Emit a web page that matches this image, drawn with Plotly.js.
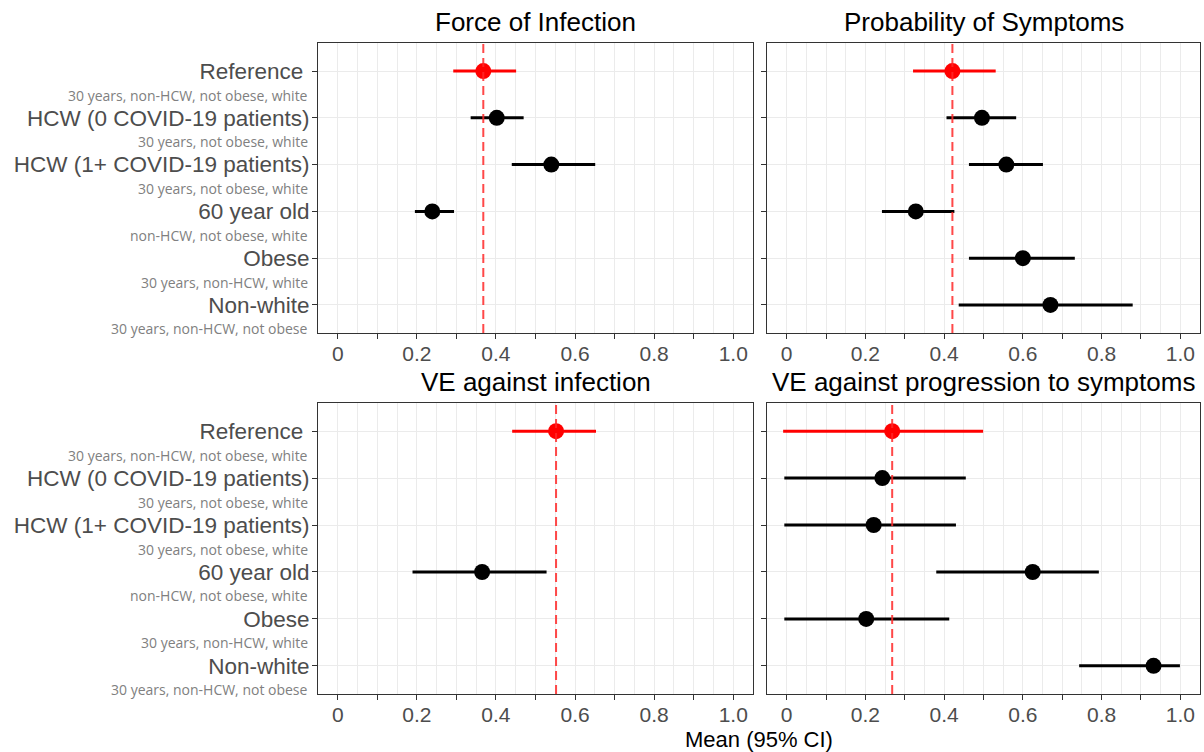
<!DOCTYPE html>
<html>
<head>
<meta charset="utf-8">
<script src="https://cdn.plot.ly/plotly-3.0.1.min.js"></script>
<style>html,body{margin:0;padding:0;background:#fff;}#chart{width:1204px;height:752px;}</style>
</head>
<body>
<div id="chart"></div>
<script>
// ---------- data ----------
const categories = ['Reference', 'HCW (0 COVID-19 patients)', 'HCW (1+ COVID-19 patients)', '60 year old', 'Obese', 'Non-white'];
const subtitles = ['30 years, non-HCW, not obese, white', '30 years, not obese, white', '30 years, not obese, white', 'non-HCW, not obese, white', '30 years, non-HCW, white', '30 years, non-HCW, not obese'];
const panelTitles = ['Force of Infection', 'Probability of Symptoms', 'VE against infection', 'VE against progression to symptoms'];

const foiMean = [0.368, 0.402, 0.540, 0.239, null, null];
const foiLo   = [0.292, 0.336, 0.440, 0.195, null, null];
const foiHi   = [0.451, 0.470, 0.651, 0.294, null, null];

const symMean = [0.421, 0.496, 0.558, 0.328, 0.600, 0.670];
const symLo   = [0.321, 0.406, 0.463, 0.242, 0.463, 0.437];
const symHi   = [0.531, 0.583, 0.651, 0.426, 0.732, 0.879];

const veInfMean = [0.552, null, null, 0.365, null, null];
const veInfLo   = [0.441, null, null, 0.189, null, null];
const veInfHi   = [0.653, null, null, 0.528, null, null];

const veSymMean = [0.268, 0.243, 0.221, 0.625, 0.202, 0.932];
const veSymLo   = [-0.009, -0.006, -0.006, 0.380, -0.006, 0.743];
const veSymHi   = [0.499, 0.455, 0.430, 0.793, 0.413, 0.999];

const xTickVals = [0, 0.1, 0.2, 0.3, 0.4, 0.5, 0.6, 0.7, 0.8, 0.9, 1.0];
const xTickText = ['0', '', '0.2', '', '0.4', '', '0.6', '', '0.8', '', '1.0'];
const xMinorVals = [0.05, 0.15, 0.25, 0.35, 0.45, 0.55, 0.65, 0.75, 0.85, 0.95];
const axisTitle = 'Mean (95% CI)';

// ---------- build ----------
const panels = [
  {mean: foiMean, lo: foiLo, hi: foiHi, xa: 'x', ya: 'y'},
  {mean: symMean, lo: symLo, hi: symHi, xa: 'x2', ya: 'y2'},
  {mean: veInfMean, lo: veInfLo, hi: veInfHi, xa: 'x3', ya: 'y3'},
  {mean: veSymMean, lo: veSymLo, hi: veSymHi, xa: 'x4', ya: 'y4'}
];

const traces = [];
const shapes = [];
const annotations = [];

function part(p, s, e, color) {
  const m = p.mean.slice(s, e);
  return {
    type: 'scatter', mode: 'markers',
    x: m, y: categories.slice(s, e),
    xaxis: p.xa, yaxis: p.ya,
    marker: {color: color, size: 16},
    error_x: {
      type: 'data', symmetric: false,
      array: m.map((v, i) => v == null ? null : p.hi[s + i] - v),
      arrayminus: m.map((v, i) => v == null ? null : v - p.lo[s + i]),
      color: color, thickness: 3, width: 0
    },
    hoverinfo: 'x+y', showlegend: false, cliponaxis: false
  };
}

panels.forEach((p, k) => {
  traces.push(part(p, 1, categories.length, '#000000'));
  traces.push(part(p, 0, 1, '#FF0000'));
  shapes.push({
    type: 'line', layer: 'above', xref: p.xa, yref: p.ya + ' domain',
    x0: p.mean[0], x1: p.mean[0], y0: 0, y1: 1,
    line: {color: 'rgba(255,40,40,0.85)', width: 2, dash: '9px,5px'}
  });
  annotations.push({
    text: panelTitles[k], xref: p.xa + ' domain', yref: p.ya + ' domain',
    x: 0.5, y: 1, xanchor: 'center', yanchor: 'bottom', yshift: 4, showarrow: false,
    font: {family: 'Liberation Sans, Arial, sans-serif', size: 26, color: '#000000'}
  });
  if (k === 0 || k === 2) {
    categories.forEach((c, i) => {
      annotations.push({
        text: subtitles[i], xref: p.xa + ' domain', yref: p.ya,
        x: 0, y: c, xanchor: 'right', yanchor: 'middle', xshift: -8, yshift: -24,
        showarrow: false,
        font: {family: 'Open Sans, Noto Sans, sans-serif', size: 14, color: '#808080'}
      });
    });
  }
});

annotations.push({
  text: axisTitle, xref: 'paper', yref: 'paper', x: (318 + 1200) / 2 / 1204, y: 1 - 739 / 752,
  xanchor: 'center', yanchor: 'middle', showarrow: false,
  font: {family: 'Liberation Sans, Arial, sans-serif', size: 22, color: '#000000'}
});

function xAxis(domain, anchor) {
  return {
    domain: domain, anchor: anchor, range: [-0.05, 1.05],
    tickmode: 'array', tickvals: xTickVals, ticktext: xTickText,
    ticks: 'outside', ticklen: 5, tickcolor: '#333333', tickwidth: 1,
    ticklabelstandoff: -3,
    tickfont: {family: 'Liberation Sans, Arial, sans-serif', size: 21, color: '#4D4D4D'},
    showgrid: true, gridcolor: '#EBEBEB', gridwidth: 1,
    minor: {tickmode: 'array', tickvals: xMinorVals, showgrid: true, gridcolor: '#EBEBEB', gridwidth: 1, ticks: ''},
    showline: true, mirror: true, linecolor: '#333333', linewidth: 1,
    zeroline: false, fixedrange: true
  };
}
function yAxis(domain, anchor, labels) {
  return {
    domain: domain, anchor: anchor, type: 'category',
    categoryorder: 'array', categoryarray: categories,
    range: [categories.length - 0.4, -0.6],
    tickmode: 'array', tickvals: categories,
    ticktext: labels ? categories.map(c => c === 'Reference' ? c + '\u00a0' : c) : categories.map(() => ''),
    showticklabels: !!labels,
    ticks: 'outside', ticklen: 5, tickcolor: '#333333', tickwidth: 1,
    ticklabelstandoff: -2,
    tickfont: {family: 'Liberation Sans, Arial, sans-serif', size: 22.5, color: '#4D4D4D'},
    showgrid: true, gridcolor: '#EBEBEB', gridwidth: 1,
    showline: true, mirror: true, linecolor: '#333333', linewidth: 1,
    zeroline: false, fixedrange: true
  };
}

const xL = [318 / 1204, 753 / 1204], xR = [767 / 1204, 1200 / 1204];
const yT = [1 - 333 / 752, 1 - 43 / 752], yB = [1 - 694 / 752, 1 - 403 / 752];

const layout = {
  width: 1204, height: 752,
  margin: {l: 0, r: 0, t: 0, b: 0},
  paper_bgcolor: '#FFFFFF', plot_bgcolor: '#FFFFFF',
  showlegend: false,
  xaxis: xAxis(xL, 'y'), yaxis: yAxis(yT, 'x', true),
  xaxis2: xAxis(xR, 'y2'), yaxis2: yAxis(yT, 'x2', false),
  xaxis3: xAxis(xL, 'y3'), yaxis3: yAxis(yB, 'x3', true),
  xaxis4: xAxis(xR, 'y4'), yaxis4: yAxis(yB, 'x4', false),
  shapes: shapes, annotations: annotations
};

Plotly.newPlot('chart', traces, layout, {displayModeBar: false, staticPlot: true});
</script>
</body>
</html>
